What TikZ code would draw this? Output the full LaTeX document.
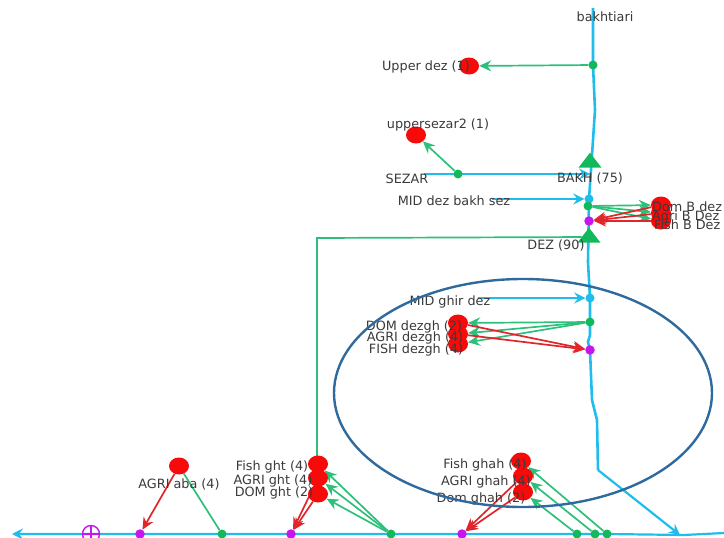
\documentclass[tikz,border=0pt]{standalone}
\usepackage{fontspec}
\setmainfont{DejaVu Sans}
\usetikzlibrary{arrows.meta,shapes.geometric,backgrounds}
\definecolor{riv}{HTML}{1FBDEB}
\definecolor{grn}{HTML}{2CC07A}
\definecolor{dotg}{HTML}{12B85C}
\definecolor{redn}{HTML}{F70A0A}
\definecolor{arrr}{HTML}{E0262A}
\definecolor{purp}{HTML}{C814EE}
\definecolor{ell}{HTML}{2F6A9E}
\definecolor{txt}{HTML}{3A3A3A}
\tikzset{
 river/.style={draw=riv,line width=2.6pt},
 feed/.style={draw=riv,line width=2.2pt,-{Stealth[length=11pt,width=11pt,inset=4pt]}},
 gline/.style={draw=grn,line width=1.7pt,-{Stealth[length=12pt,width=11pt,inset=4pt]}},
 rline/.style={draw=arrr,line width=1.7pt,-{Stealth[length=12pt,width=11pt,inset=4pt]}},
 demand/.style={ellipse,fill=redn,inner sep=0pt,minimum width=20pt,minimum height=17pt},
 gdot/.style={circle,fill=dotg,inner sep=0pt,minimum size=9pt},
 bdot/.style={circle,fill=riv,inner sep=0pt,minimum size=9pt},
 pdot/.style={circle,fill=purp,inner sep=0pt,minimum size=9.5pt},
 res/.style={isosceles triangle,isosceles triangle apex angle=75,shape border rotate=90,fill=dotg,inner sep=0pt,minimum height=15pt,minimum width=20pt},
 lab/.style={font=\fontsize{12.8}{14}\selectfont,text=txt,inner sep=0pt},
}
\begin{document}
\begin{tikzpicture}[x=1pt,y=-1pt]
\useasboundingbox (0,0) rectangle (724,538);
% river way points
\coordinate (r0) at (593,8);
\coordinate (r1) at (595,110);
\coordinate (r2) at (591,170);
\coordinate (r3) at (588,262);
\coordinate (r4) at (590,335);
\coordinate (r5) at (588,342);
\coordinate (r6) at (592,400);
\coordinate (r7) at (597,420);
\coordinate (r8) at (598,470);
\coordinate (r9) at (680,535);
\coordinate (e0) at (724,533);
\coordinate (e1) at (684,535);
\coordinate (e2) at (12,534);
\coordinate (sz0) at (424,174);
\coordinate (sz1) at (590,174);
\coordinate (md0) at (492,199);
\coordinate (mg0) at (478,298);
% junctions
\node[gdot] (gup) at (593,65) {};
\node[gdot] (gsez) at (458,174) {};
\node[res] (tbakh) at (590,162) {};
\node[bdot] (bmid) at (589,199) {};
\node[gdot] (gbd) at (588,206) {};
\node[pdot] (pbd) at (589,221) {};
\node[res] (tdez) at (589,237) {};
\node[bdot] (bghir) at (590,298) {};
\node[gdot] (gdz) at (590,322) {};
\node[pdot] (pdz) at (590,350) {};
\node[pdot] (paba) at (140,534) {};
\node[gdot] (gaba) at (222,534) {};
\node[pdot] (pght) at (291,534) {};
\node[gdot] (gght) at (391,534) {};
\node[pdot] (pgh) at (462,534) {};
\node[gdot] (gg1) at (577,534) {};
\node[gdot] (gg2) at (595,534) {};
\node[gdot] (gg3) at (607,534) {};
\node[draw=purp,line width=1.4pt,circle,minimum size=17pt,inner sep=0pt] (tgt) at (91,534) {};
\draw[purp,line width=1.4pt] (tgt.north) -- (tgt.south) (tgt.west) -- (tgt.east);
% demands
\node[demand] (dup) at (469,66) {};
\node[demand] (dsz) at (416,135) {};
\node[demand] (db1) at (661,205) {};
\node[demand] (db2) at (661,213) {};
\node[demand] (db3) at (661,221) {};
\node[demand] (dz1) at (458,323) {};
\node[demand] (dz2) at (458,334) {};
\node[demand] (dz3) at (458,344) {};
\node[demand] (daba) at (179,466) {};
\node[demand] (dg1) at (318,464) {};
\node[demand] (dg2) at (318,478) {};
\node[demand] (dg3) at (318,494) {};
\node[demand] (dh1) at (521,461) {};
\node[demand] (dh2) at (523,476) {};
\node[demand] (dh3) at (523,492) {};
\begin{scope}[on background layer]
% rivers
\draw[river] (r0) -- (gup.center) -- (r1) -- (r2) -- (bmid.center) -- (r3) -- (bghir.center) -- (gdz.center) -- (r4) -- (r5) -- (pdz.center) -- (r6) -- (r7) -- (r8);
\draw[feed] (r8) -- (r9);
\draw[feed] (e0) -- (e1) -- (gg3.center) -- (gg2.center) -- (gg1.center) -- (pgh.center) -- (gght.center) -- (pght.center) -- (gaba.center) -- (paba.center) -- (tgt.center) -- (e2);
\draw[feed] (sz0) -- (sz1);
\draw[feed] (md0) -- (bmid);
\draw[feed] (mg0) -- (bghir);
% green
\draw[gline] (gup) -- (dup);
\draw[gline] (gsez) -- (dsz);
\draw[gline] (gbd) -- (db1);
\draw[gline] (gbd) -- (db2);
\draw[gline] (gbd) -- (db3);
\draw[gline] (gdz) -- (dz1);
\draw[gline] (gdz) -- (dz2);
\draw[gline] (gdz) -- (dz3);
\draw[gline] (gght) -- (dg1);
\draw[gline] (gght) -- (dg2);
\draw[gline] (gght) -- (dg3);
\draw[gline] (gg3) -- (dh1);
\draw[gline] (gg2) -- (dh2);
\draw[gline] (gg1) -- (dh3);
\draw[draw=grn,line width=1.7pt] (gaba) -- (daba);
\draw[draw=grn,line width=1.7pt] (tdez) -- (317,238) -- (317,458);
% red
\draw[rline] (db1) -- (pbd);
\draw[rline] (db2) -- (pbd);
\draw[rline] (db3) -- (pbd);
\draw[rline] (dz1) -- (pdz);
\draw[rline] (dz2) -- (pdz);
\draw[rline] (daba) -- (paba);
\draw[rline] (dg2) -- (pght);
\draw[rline] (dg3) -- (pght);
\draw[rline] (dh2) -- (pgh);
\draw[rline] (dh3) -- (pgh);
\end{scope}
% labels
\node[lab] (l1) at (605,17) {bakhtiari};
\node[lab] (l2) at (426,67) {Upper dez (1)};
\node[lab] (l3) at (438,125) {uppersezar2 (1)};
\node[lab] (l4) at (407,179) {SEZAR};
\node[lab] (l5) at (590,178) {BAKH (75)};
\node[lab] (l6) at (454,201) {MID dez bakh sez};
\node[lab,anchor=west] (l7) at (652,207) {Dom B dez};
\node[lab,anchor=west] (l8) at (652,217) {Agri B Dez};
\node[lab,anchor=west] (l9) at (654,225) {Fish B Dez};
\node[lab] (l10) at (556,245) {DEZ (90)};
\node[lab] (l11) at (450,302) {MID ghir dez};
\node[lab] (l12) at (414,327) {DOM dezgh (2)};
\node[lab] (l13) at (415,338) {AGRI dezgh (4)};
\node[lab] (l14) at (416,350) {FISH dezgh (4)};
\node[lab] (l15) at (179,484) {AGRI aba (4)};
\node[lab] (l16) at (272,467) {Fish ght (4)};
\node[lab] (l17) at (273,481) {AGRI ght (4)};
\node[lab] (l18) at (274,493) {DOM ght (2)};
\node[lab] (l19) at (485,465) {Fish ghah (4)};
\node[lab] (l20) at (486,482) {AGRI ghah (4)};
\node[lab] (l21) at (481,499) {Dom ghah (2)};
% highlight
\node[draw=ell,line width=2.4pt,ellipse,inner sep=0pt,minimum width=378pt,minimum height=228pt] (hl) at (523,393) {};
\end{tikzpicture}
\end{document}
